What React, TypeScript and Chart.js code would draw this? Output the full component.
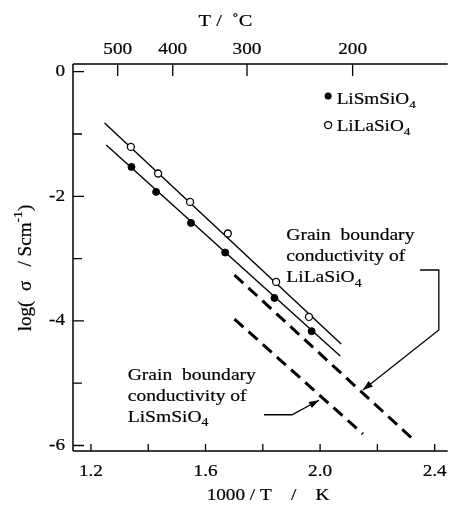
import React, { useEffect, useRef } from 'react';
import { Chart, registerables } from 'chart.js';

Chart.register(...registerables);

// ---- data ----
const smX = [1.3415, 1.4275, 1.5494, 1.6685, 1.8406, 1.9704];
const smY = [-1.528, -1.929, -2.427, -2.902, -3.631, -4.165];
const laX = [1.3394, 1.4344, 1.546, 1.6778, 1.8465, 1.9611];
const laY = [-1.207, -1.634, -2.09, -2.597, -3.374, -3.936];
const smFitX = [1.2534, 2.0702];
const smFitY = [-1.177, -4.563];
const laFitX = [1.2475, 2.0737];
const laFitY = [-0.823, -4.371];
const gbLaX = [1.7009, 2.3205];
const gbLaY = [-3.263, -5.884];
const gbSmX = [1.7009, 2.1495];
const gbSmY = [-3.97, -5.815];

const xTickValues = [1.2, 1.4, 1.6, 1.8, 2.0, 2.2, 2.4];
const xLabelValues = [1.2, 1.6, 2.0, 2.4];
const yTickValues = [0, -1, -2, -3, -4, -5, -6];
const yLabelValues = [0, -2, -4, -6];
const topTempC = [500, 400, 300, 200];

const X_MIN = 1.13735;
const X_MAX = 2.44544;
const Y_MIN = -6.088;
const Y_MAX = 0.1236;

// annotation anchors, in data units
const legendItems = [
  { label: 'LiSmSiO', sub: '4', filled: true, x: 2.028, y: -0.39, ty: -0.518 },
  { label: 'LiLaSiO', sub: '4', filled: false, x: 2.028, y: -0.856, ty: -0.952 },
];
const gbLaText = { x: 1.8819, y: -2.701, lines: ['Grain  boundary', 'conductivity of', 'LiLaSiO'] };
const gbSmText = { x: 1.3284, y: -4.941, lines: ['Grain  boundary', 'conductivity of', 'LiSmSiO'] };
const gbLaArrowX = [2.349, 2.4145, 2.4145, 2.1494];
const gbLaArrowY = [-3.183, -3.183, -4.146, -5.109];
const gbSmArrowX = [1.8041, 1.9016, 1.9962];
const gbSmArrowY = [-5.506, -5.506, -5.274];

const SX = 1.2;
const FONT = '"Liberation Serif", "Times New Roman", serif';

type Part = { t: string; sub?: boolean; sup?: boolean };

function drawRich(ctx: CanvasRenderingContext2D, parts: Part[], x: number, y: number, align: string, size: number, baseline: CanvasTextBaseline = 'alphabetic', sx = SX) {
  ctx.save();
  ctx.textBaseline = baseline;
  ctx.textAlign = 'left';
  ctx.fillStyle = '#000';
  ctx.strokeStyle = '#000';
  ctx.lineWidth = 0.2;
  let w = 0;
  for (const p of parts) {
    ctx.font = `${p.sub || p.sup ? Math.round(size * 0.7) : size}px ${FONT}`;
    w += ctx.measureText(p.t).width;
  }
  const W = w * sx;
  const x0 = align === 'center' ? x - W / 2 : align === 'right' ? x - W : x;
  ctx.translate(x0, y);
  ctx.scale(sx, 1);
  let cx = 0;
  for (const p of parts) {
    ctx.font = `${p.sub || p.sup ? Math.round(size * 0.7) : size}px ${FONT}`;
    const dy = p.sub ? size * 0.28 : p.sup ? -size * 0.42 : 0;
    ctx.fillText(p.t, cx, dy);
    ctx.strokeText(p.t, cx, dy);
    cx += ctx.measureText(p.t).width;
  }
  ctx.restore();
}

const toXY = (xs: number[], ys: number[]) => xs.map((x, i) => ({ x, y: ys[i] }));

const decorPlugin = {
  id: 'decor',
  afterDatasetsDraw(chart: any) {
    const { ctx, chartArea: a, scales } = chart;
    const xs = scales.x;
    const ys = scales.y;
    const px = (v: number) => xs.getPixelForValue(v);
    const py = (v: number) => ys.getPixelForValue(v);
    ctx.save();
    ctx.strokeStyle = '#000';
    ctx.fillStyle = '#000';
    ctx.lineWidth = 1.5;
    ctx.setLineDash([]);
    // axes
    ctx.beginPath();
    ctx.moveTo(a.left, a.top);
    ctx.lineTo(a.right, a.top);
    ctx.moveTo(a.left, a.top);
    ctx.lineTo(a.left, a.bottom);
    ctx.moveTo(a.left, a.bottom);
    ctx.lineTo(a.right, a.bottom);
    ctx.stroke();
    // left ticks
    ctx.lineWidth = 1.3;
    ctx.beginPath();
    for (const v of yTickValues) {
      const y = py(v);
      const len = yLabelValues.includes(v) ? 11 : 9;
      ctx.moveTo(a.left, y);
      ctx.lineTo(a.left + len, y);
    }
    // bottom ticks
    for (const v of xTickValues) {
      const x = px(v);
      ctx.moveTo(x, a.bottom);
      ctx.lineTo(x, a.bottom - 7);
    }
    // top ticks
    for (const t of topTempC) {
      const x = px(1000 / (t + 273.15));
      ctx.moveTo(x, a.top);
      ctx.lineTo(x, a.top + 12);
    }
    ctx.stroke();
    // tick labels
    for (const v of yLabelValues) {
      drawRich(ctx, [{ t: String(v) }], a.left - 8, py(v), 'right', 16, 'middle');
    }
    for (const v of xLabelValues) {
      drawRich(ctx, [{ t: v.toFixed(1) }], px(v), a.bottom + 21, 'center', 16, 'middle');
    }
    for (const t of topTempC) {
      drawRich(ctx, [{ t: String(t) }], px(1000 / (t + 273.15)), a.top - 14, 'center', 16, 'middle');
    }
    // titles
    drawRich(ctx, [{ t: 'T /  \u02DAC' }], 225.5, 22, 'center', 17, 'middle');
    drawRich(ctx, [{ t: '1000 / T    /    K' }], 268, 496, 'center', 16, 'middle');
    ctx.save();
    ctx.translate(26, 268);
    ctx.rotate(-Math.PI / 2);
    drawRich(ctx, [{ t: 'log(  \u03C3   / Scm' }, { t: '-1', sup: true }, { t: ')' }], 0, 0, 'center', 18, 'middle', 1.06);
    ctx.restore();
    // legend
    for (const it of legendItems) {
      const mx = px(it.x);
      const my = py(it.y);
      ctx.beginPath();
      ctx.arc(mx, my, 3.5, 0, Math.PI * 2);
      if (it.filled) {
        ctx.fill();
      } else {
        ctx.fillStyle = '#fff';
        ctx.fill();
        ctx.fillStyle = '#000';
        ctx.lineWidth = 1.3;
        ctx.stroke();
      }
      drawRich(ctx, [{ t: it.label }, { t: it.sub, sub: true }], mx + 8.5, py(it.ty), 'left', 16);
    }
    // annotation texts
    for (const tb of [gbLaText, gbSmText]) {
      const x0 = px(tb.x);
      const y0 = py(tb.y);
      tb.lines.forEach((ln, i) => {
        const parts: Part[] = i === 2 ? [{ t: ln }, { t: '4', sub: true }] : [{ t: ln }];
        drawRich(ctx, parts, x0, y0 + i * 21, 'left', 17, 'alphabetic', 1.15);
      });
    }
    // arrows
    const arrow = (axs: number[], ays: number[]) => {
      const pts = axs.map((x, i) => [px(x), py(ays[i])]);
      ctx.lineWidth = 1.3;
      ctx.beginPath();
      pts.forEach((p, i) => (i === 0 ? ctx.moveTo(p[0], p[1]) : ctx.lineTo(p[0], p[1])));
      ctx.stroke();
      const [x1, y1] = pts[pts.length - 2];
      const [x2, y2] = pts[pts.length - 1];
      const ang = Math.atan2(y2 - y1, x2 - x1);
      const L = 10;
      const H = 3.5;
      ctx.beginPath();
      ctx.moveTo(x2, y2);
      ctx.lineTo(x2 - L * Math.cos(ang) + H * Math.sin(ang), y2 - L * Math.sin(ang) - H * Math.cos(ang));
      ctx.lineTo(x2 - L * Math.cos(ang) - H * Math.sin(ang), y2 - L * Math.sin(ang) + H * Math.cos(ang));
      ctx.closePath();
      ctx.fill();
    };
    arrow(gbLaArrowX, gbLaArrowY);
    arrow(gbSmArrowX, gbSmArrowY);
    ctx.restore();
  },
};

export default function App() {
  const ref = useRef<HTMLCanvasElement | null>(null);
  useEffect(() => {
    if (!ref.current) return;
    const chart = new Chart(ref.current, {
      type: 'scatter',
      data: {
        datasets: [
          {
            label: 'LiSmSiO4',
            data: toXY(smX, smY),
            pointRadius: 3.5,
            pointBackgroundColor: '#000',
            pointBorderColor: '#000',
            pointBorderWidth: 1,
            showLine: false,
          },
          {
            label: 'LiLaSiO4',
            data: toXY(laX, laY),
            pointRadius: 3.5,
            pointBackgroundColor: '#fff',
            pointBorderColor: '#000',
            pointBorderWidth: 1.3,
            showLine: false,
          },
          {
            label: 'LiSmSiO4 fit',
            data: toXY(smFitX, smFitY),
            showLine: true,
            pointRadius: 0,
            borderColor: '#000',
            borderWidth: 1.4,
          },
          {
            label: 'LiLaSiO4 fit',
            data: toXY(laFitX, laFitY),
            showLine: true,
            pointRadius: 0,
            borderColor: '#000',
            borderWidth: 1.4,
          },
          {
            label: 'GB LiLaSiO4',
            data: toXY(gbLaX, gbLaY),
            showLine: true,
            pointRadius: 0,
            borderColor: '#000',
            borderWidth: 3,
            borderDash: [12, 7],
          },
          {
            label: 'GB LiSmSiO4',
            data: toXY(gbSmX, gbSmY),
            showLine: true,
            pointRadius: 0,
            borderColor: '#000',
            borderWidth: 3,
            borderDash: [12, 7],
          },
        ],
      },
      options: {
        responsive: false,
        animation: false,
        events: [],
        layout: { padding: 0 },
        plugins: { legend: { display: false }, tooltip: { enabled: false } },
        scales: {
          x: {
            type: 'linear',
            position: 'bottom',
            min: X_MIN,
            max: X_MAX,
            grid: { display: false, drawTicks: false },
            border: { display: false },
            ticks: { display: false },
            afterFit: (s: any) => { s.height = 57; },
          },
          x2: {
            type: 'linear',
            position: 'top',
            min: X_MIN,
            max: X_MAX,
            grid: { display: false, drawTicks: false },
            border: { display: false },
            ticks: { display: false },
            afterFit: (s: any) => { s.height = 64; },
          },
          y: {
            type: 'linear',
            position: 'left',
            min: Y_MIN,
            max: Y_MAX,
            grid: { display: false, drawTicks: false },
            border: { display: false },
            ticks: { display: false },
            afterFit: (s: any) => { s.width = 73; },
          },
        },
      },
      plugins: [decorPlugin],
    } as any);
    return () => chart.destroy();
  }, []);
  return (
    <div style={{ position: 'absolute', left: 0, top: 0, width: 453, height: 508, background: '#fff' }}>
      <canvas ref={ref} width={453} height={508} style={{ display: 'block' }} />
    </div>
  );
}
